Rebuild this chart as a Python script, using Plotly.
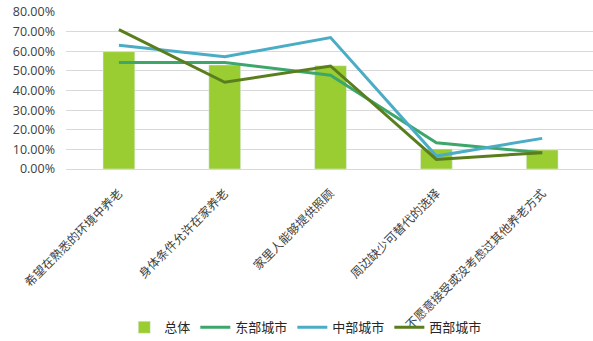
import plotly.graph_objects as go

categories = ["希望在熟悉的环境中养老", "身体条件允许在家养老", "家里人能够提供照顾",
              "周边缺少可替代的选择", "不愿意接受或没考虑过其他养老方式"]
total = [0.598, 0.530, 0.526, 0.102, 0.097]
east = [0.543, 0.543, 0.478, 0.134, 0.083]
central = [0.630, 0.572, 0.670, 0.066, 0.156]
west = [0.710, 0.442, 0.525, 0.049, 0.083]
yticks = [0, 0.1, 0.2, 0.3, 0.4, 0.5, 0.6, 0.7, 0.8]

font = "Open Sans, Noto Sans CJK SC, sans-serif"
fig = go.Figure()
fig.add_trace(go.Bar(x=categories, y=total, name="总体", marker_color="#9ACD32",
                     width=0.30))
fig.add_trace(go.Scatter(x=categories, y=east, name="东部城市", mode="lines",
                         line=dict(color="#3CA66B", width=3)))
fig.add_trace(go.Scatter(x=categories, y=central, name="中部城市", mode="lines",
                         line=dict(color="#4BACC6", width=3)))
fig.add_trace(go.Scatter(x=categories, y=west, name="西部城市", mode="lines",
                         line=dict(color="#5A7D1E", width=3)))

fig.update_layout(
    width=593, height=341,
    margin=dict(l=66, r=0, t=12, b=172),
    paper_bgcolor="white", plot_bgcolor="white",
    font=dict(family=font, size=12, color="#404040"),
    showlegend=True,
    legend=dict(orientation="h", x=0.455, xanchor="center",
                yref="container", y=0.04, yanchor="middle",
                font=dict(size=13, color="#262626"), itemwidth=30,
                traceorder="normal", bgcolor="rgba(0,0,0,0)"),
    xaxis=dict(type="category", range=[-0.5, 4.48], tickangle=-45,
               showgrid=False, showline=False, ticks="", automargin=False,
               ticklabelstandoff=14,
               tickfont=dict(size=12, color="#404040"), fixedrange=True),
    yaxis=dict(range=[0, 0.8], tickvals=yticks, tickformat=".2%",
               showgrid=True, gridcolor="#D9D9D9", gridwidth=1,
               zeroline=True, zerolinecolor="#D9D9D9", zerolinewidth=1,
               showline=False, ticks="", automargin=False,
               ticklabelstandoff=10,
               tickfont=dict(size=12.5, color="#404040")),
)
fig.write_html("out.html")
